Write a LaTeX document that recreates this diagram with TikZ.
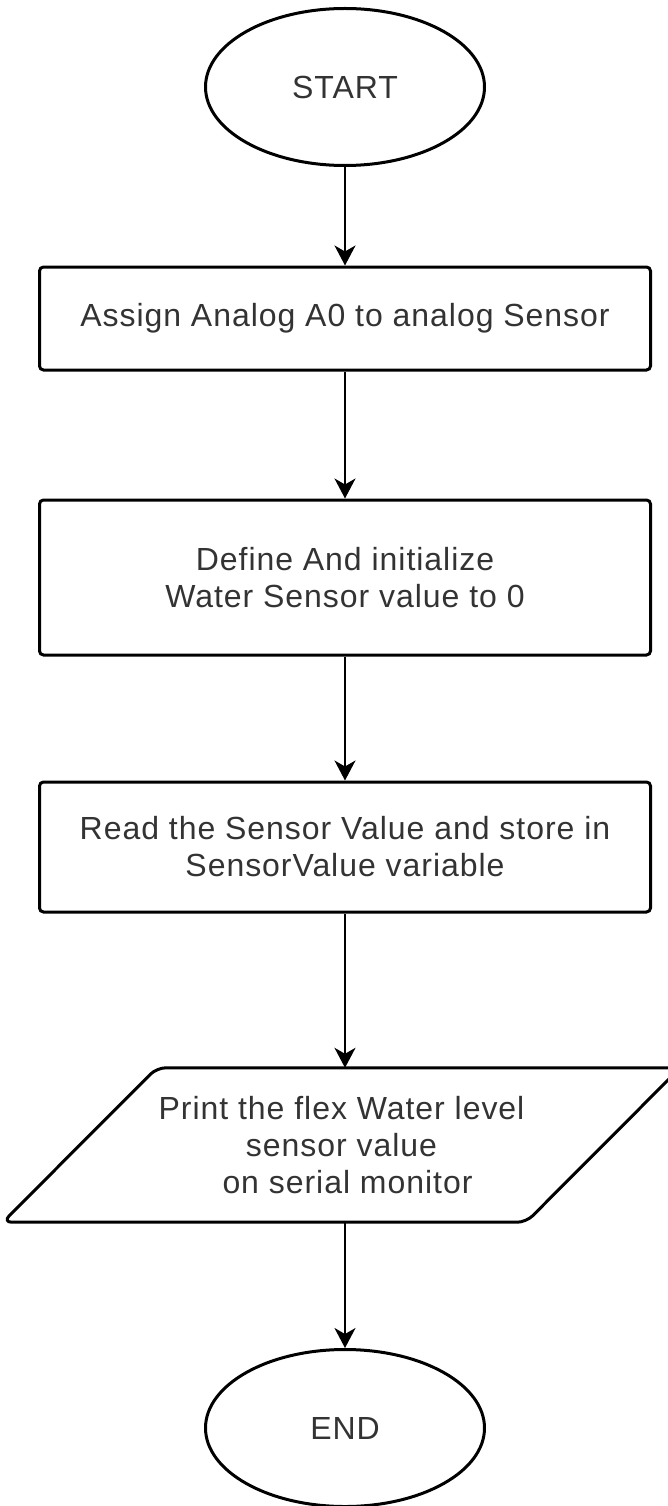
\documentclass[tikz,border=0pt]{standalone}
\usepackage{fontspec}
\setmainfont[LetterSpace=3]{Liberation Sans}
\usetikzlibrary{shapes.geometric,arrows.meta}

\def\schrift{\fontsize{32}{37}\selectfont}
\tikzset{
  endpunkt/.style={draw,ellipse,line width=3pt,inner sep=0pt,minimum width=279pt,minimum height=157pt,font=\schrift,text=black!80},
  schritt/.style={draw,line width=3pt,rounded corners=4pt,inner sep=0pt,minimum width=611pt,align=center,font=\schrift,text=black!80},
  ausgabe/.style={inner sep=0pt,minimum width=677pt,minimum height=154pt,align=center,font=\schrift,text=black!80},
  pfeil/.style={line width=2pt,-{Stealth[length=20pt,width=21pt,inset=6pt]}},
}

\begin{document}
\begin{tikzpicture}[x=1pt,y=-1pt]
  \useasboundingbox (0,0) rectangle (668,1506);
  % Start
  \node[endpunkt] (start) at (345,87) {START};
  % Schritte
  \node[schritt,minimum height=103pt] (s1) at (345,318.5) {Assign Analog A0 to analog Sensor};
  \node[schritt,minimum height=155pt] (s2) at (345,577.5) {Define And initialize\\Water Sensor value to 0};
  \node[schritt,minimum height=130pt] (s3) at (345,847) {Read the Sensor Value and store in\\SensorValue variable};
  % Ausgabe
  \node[ausgabe] (aus) at (341.5,1145) {Print the flex Water level\\sensor value\\\hspace*{12pt}on serial monitor};
  \draw[line width=3pt,rounded corners=9pt] (aus.south west) -- ([xshift=154pt]aus.north west)
    -- (aus.north east) -- ([xshift=-154pt]aus.south east) -- cycle;
  % Ende
  \node[endpunkt] (ende) at (345,1428) {END};
  % Pfeile
  \draw[pfeil] (start) -- (s1);
  \draw[pfeil] (s1) -- (s2);
  \draw[pfeil] (s2) -- (s3);
  \draw[pfeil] (s3.south) -- (s3.south |- aus.north);
  \draw[pfeil] (aus.south -| ende.north) -- (ende);
\end{tikzpicture}
\end{document}
